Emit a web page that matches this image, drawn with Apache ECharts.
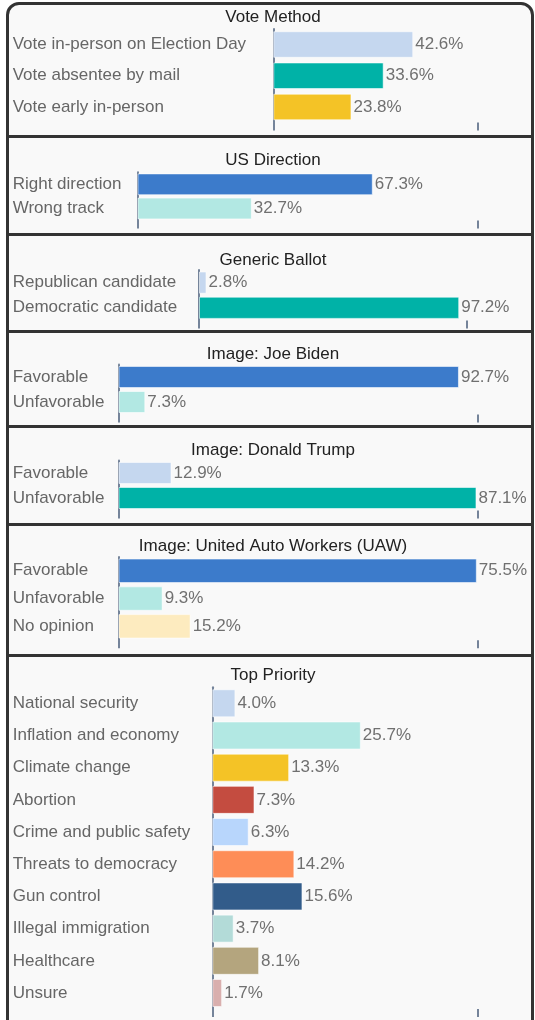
<!DOCTYPE html>
<html>
<head>
<meta charset="utf-8">
<script src="https://cdn.jsdelivr.net/npm/echarts@6/dist/echarts.min.js"></script>
<style>
  html, body { margin: 0; padding: 0; background: #ffffff; width: 535px; height: 1020px; overflow: hidden; }
  #frame { position: absolute; left: 6px; top: 2px; width: 522px; height: 1100px; border: 3px solid #333; border-radius: 13px 13px 0 0; background: #f9f9f9; }
  .sep { position: absolute; left: 6px; width: 528px; height: 3px; background: #333; }
  #chart { position: absolute; left: 0; top: 0; width: 535px; height: 1020px; }
</style>
</head>
<body>
<div id="frame"></div>
<div class="sep" style="top:135px"></div>
<div class="sep" style="top:233px"></div>
<div class="sep" style="top:330px"></div>
<div class="sep" style="top:425px"></div>
<div class="sep" style="top:523px"></div>
<div class="sep" style="top:654px"></div>
<div id="chart"></div>
<script>
// ---- Data ----
const titles = ["Vote Method", "US Direction", "Generic Ballot", "Image: Joe Biden", "Image: Donald Trump", "Image: United Auto Workers (UAW)", "Top Priority"];

const voteMethodCats = ["Vote in-person on Election Day", "Vote absentee by mail", "Vote early in-person"];
const voteMethodVals = [42.6, 33.6, 23.8];

const usDirectionCats = ["Right direction", "Wrong track"];
const usDirectionVals = [67.3, 32.7];

const genericBallotCats = ["Republican candidate", "Democratic candidate"];
const genericBallotVals = [2.8, 97.2];

const bidenCats = ["Favorable", "Unfavorable"];
const bidenVals = [92.7, 7.3];

const trumpCats = ["Favorable", "Unfavorable"];
const trumpVals = [12.9, 87.1];

const uawCats = ["Favorable", "Unfavorable", "No opinion"];
const uawVals = [75.5, 9.3, 15.2];

const priorityCats = ["National security", "Inflation and economy", "Climate change", "Abortion", "Crime and public safety", "Threats to democracy", "Gun control", "Illegal immigration", "Healthcare", "Unsure"];
const priorityVals = [4.0, 25.7, 13.3, 7.3, 6.3, 14.2, 15.6, 3.7, 8.1, 1.7];

// value-axis maximum per panel (scale)
const axisMax = [62.1, 97.2, 100, 97.7, 87.3, 75.6, 45.85];

// ---- Styles ----
const colors = [
  ["#c5d7ef", "#00b2a7", "#f4c326"],
  ["#3c7bcb", "#b2e8e3"],
  ["#c5d7ef", "#00b2a7"],
  ["#3c7bcb", "#b2e8e3"],
  ["#c5d7ef", "#00b2a7"],
  ["#3c7bcb", "#b2e8e3", "#fdebbf"],
  ["#c5d7ef", "#b2e8e3", "#f4c326", "#c44c40", "#b8d6fc", "#fe8d57", "#325c8a", "#b3dbd8", "#b4a57e", "#d9afae"]
];

// layout (page pixels): axis x, right end x, band top, band bottom, title centre y, bar gap
const layout = [
  { l: 273.3, r: 477.3, t: 28.9, b: 122.6, ty: 17.5, gap: '15%' },
  { l: 137.5, r: 477.3, t: 172.2, b: 220.6, ty: 160.5, gap: '10%' },
  { l: 199,   r: 466.7, t: 270,  b: 320.4, ty: 260.5, gap: '12%' },
  { l: 118.5, r: 477.3, t: 364.5, b: 414.5, ty: 354.5, gap: '12%' },
  { l: 118.5, r: 477.3, t: 460.5, b: 510.5, ty: 450.5, gap: '12%' },
  { l: 118.5, r: 477.3, t: 556.9, b: 640.2, ty: 546.5, gap: '12%' },
  { l: 212.3, r: 477.3, t: 687.2, b: 1009.1, ty: 675.5, gap: '13%' }
];

const catsList = [voteMethodCats, usDirectionCats, genericBallotCats, bidenCats, trumpCats, uawCats, priorityCats];
const valsList = [voteMethodVals, usDirectionVals, genericBallotVals, bidenVals, trumpVals, uawVals, priorityVals];

const FONT = '"Liberation Sans", Arial, sans-serif';
const AXIS_COLOR = '#75849a';
const LABEL_X = 12.7;

const option = { animation: false, title: [], grid: [], xAxis: [], yAxis: [], series: [] };

layout.forEach((p, i) => {
  option.title.push({
    text: titles[i], left: 273, top: p.ty, textAlign: 'center', textVerticalAlign: 'middle', padding: 0,
    textStyle: { fontFamily: FONT, fontSize: 17, fontWeight: 'normal', color: '#222' }
  });
  option.grid.push({ left: p.l, top: p.t, width: p.r - p.l, height: p.b - p.t, outerBoundsMode: 'none', containLabel: false });
  option.xAxis.push({
    type: 'value', gridIndex: i, min: 0, max: axisMax[i], interval: axisMax[i],
    axisLine: { show: false }, splitLine: { show: false }, axisLabel: { show: false },
    axisTick: { show: true, length: 8, lineStyle: { color: AXIS_COLOR, width: 2 } }
  });
  option.yAxis.push({
    type: 'category', gridIndex: i, inverse: true, data: catsList[i],
    axisLine: { show: true, lineStyle: { color: AXIS_COLOR, width: 2 } },
    axisTick: { show: false },
    axisLabel: { align: 'left', verticalAlign: 'middle', padding: [6, 0, 0, 0], margin: p.l - LABEL_X,
      fontFamily: FONT, fontSize: 17, color: '#666' }
  });
  option.series.push({
    type: 'bar', xAxisIndex: i, yAxisIndex: i, barCategoryGap: p.gap,
    data: valsList[i].map((v, k) => ({ value: v, itemStyle: { color: colors[i][k] } })),
    itemStyle: { borderColor: 'rgba(255,255,255,0.55)', borderWidth: 1 },
    label: { show: true, position: 'right', distance: 2, verticalAlign: 'middle', padding: [6, 0, 0, 0],
      fontFamily: FONT, fontSize: 17, color: '#707070',
      formatter: (d) => d.value.toFixed(1) + '%' }
  });
});

const chart = echarts.init(document.getElementById('chart'), null, { renderer: 'canvas' });
chart.setOption(option);
</script>
</body>
</html>
